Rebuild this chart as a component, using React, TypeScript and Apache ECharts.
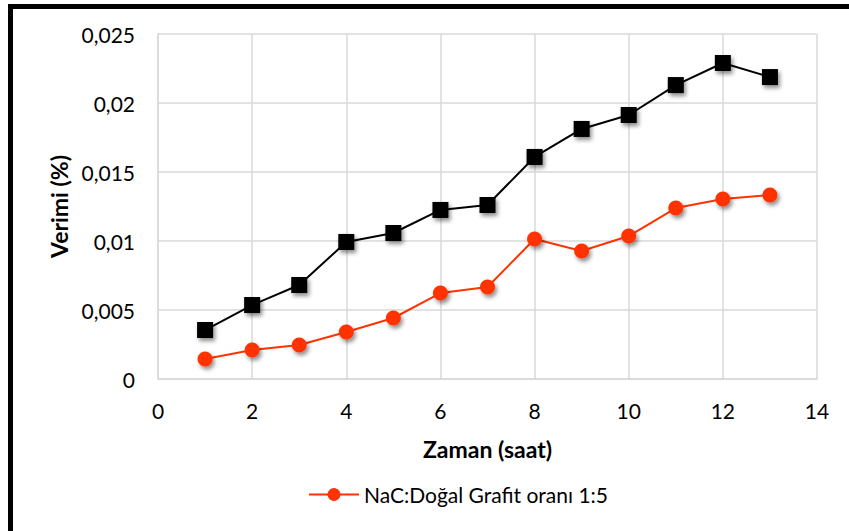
import React, { useEffect, useRef } from "react";
import * as echarts from "echarts";

const hours = [1, 2, 3, 4, 5, 6, 7, 8, 9, 10, 11, 12, 13];
const blackValues = [0.00355, 0.00536, 0.00681, 0.00993, 0.01058, 0.01225, 0.01261, 0.01609, 0.01812, 0.01913, 0.0213, 0.0229, 0.02188];
const redValues = [0.00145, 0.0021, 0.00246, 0.0034, 0.00442, 0.00623, 0.00667, 0.01014, 0.00928, 0.01036, 0.01239, 0.01304, 0.01333];
const yTickLabels = ["0", "0,005", "0,01", "0,015", "0,02", "0,025"];
const redName = "NaC:Doğal Grafit oranı 1:5";
const blackName = "Seri 2";
const xTitle = "Zaman (saat)";
const yTitle = "Verimi (%)";

const FONT = "Lato, 'Open Sans', sans-serif";

export default function App() {
  const ref = useRef<HTMLDivElement>(null);
  useEffect(() => {
    if (!ref.current) return;
    const chart = echarts.init(ref.current, null, { renderer: "svg" });
    const shadow = {
      shadowBlur: 4,
      shadowOffsetX: 2,
      shadowOffsetY: 3,
      shadowColor: "rgba(0,0,0,0.45)",
    };
    chart.setOption({
      animation: false,
      backgroundColor: "#ffffff",
      textStyle: { fontFamily: FONT },
      graphic: [
        {
          type: "rect",
          shape: { x: 10.5, y: 6.5, width: 860, height: 560 },
          style: { fill: "none", stroke: "#000", lineWidth: 5 },
          silent: true,
        },
      ],
      grid: { left: 158, right: 32, top: 34, bottom: 152, containLabel: false },
      legend: {
        data: [redName],
        left: 303,
        top: 479,
        itemWidth: 50,
        itemHeight: 16,
        itemGap: 8,
        textStyle: { fontSize: 21, color: "#000", fontFamily: FONT },
      },
      xAxis: {
        type: "value",
        min: 0,
        max: 14,
        interval: 2,
        name: xTitle,
        nameLocation: "middle",
        nameGap: 58,
        nameTextStyle: { fontSize: 23, fontWeight: "bold", color: "#000", fontFamily: FONT },
        axisLine: { show: true, lineStyle: { color: "#d9d9d9", width: 1.5 } },
        axisTick: { show: false },
        axisLabel: { fontSize: 21, color: "#000", margin: 21, fontFamily: FONT },
        splitLine: { show: true, lineStyle: { color: "#d9d9d9", width: 1.5 } },
      },
      yAxis: {
        type: "value",
        min: 0,
        max: 0.025,
        interval: 0.005,
        name: yTitle,
        nameLocation: "middle",
        nameGap: 87,
        nameTextStyle: { fontSize: 23, fontWeight: "bold", color: "#000", fontFamily: FONT },
        axisLine: { show: true, lineStyle: { color: "#d9d9d9", width: 1.5 } },
        axisTick: { show: false },
        axisLabel: {
          fontSize: 21,
          color: "#000",
          margin: 23,
          fontFamily: FONT,
          formatter: (v: number) => yTickLabels[Math.round(v / 0.005)] ?? String(v),
        },
        splitLine: { show: true, lineStyle: { color: "#d9d9d9", width: 1.5 } },
      },
      series: [
        {
          name: blackName,
          type: "line",
          data: hours.map((h, i) => [h, blackValues[i]]),
          symbol: "rect",
          symbolSize: 16,
          lineStyle: { color: "#000", width: 2 },
          itemStyle: { color: "#000", ...shadow },
          z: 2,
        },
        {
          name: redName,
          type: "line",
          data: hours.map((h, i) => [h, redValues[i]]),
          symbol: "circle",
          symbolSize: 15,
          lineStyle: { color: "#ff3300", width: 2 },
          itemStyle: { color: "#ff3300", ...shadow },
          z: 3,
        },
      ],
    });
    return () => chart.dispose();
  }, []);
  return (
    <div
      ref={ref}
      style={{ position: "fixed", left: 0, top: 0, width: 849, height: 531 }}
    />
  );
}
